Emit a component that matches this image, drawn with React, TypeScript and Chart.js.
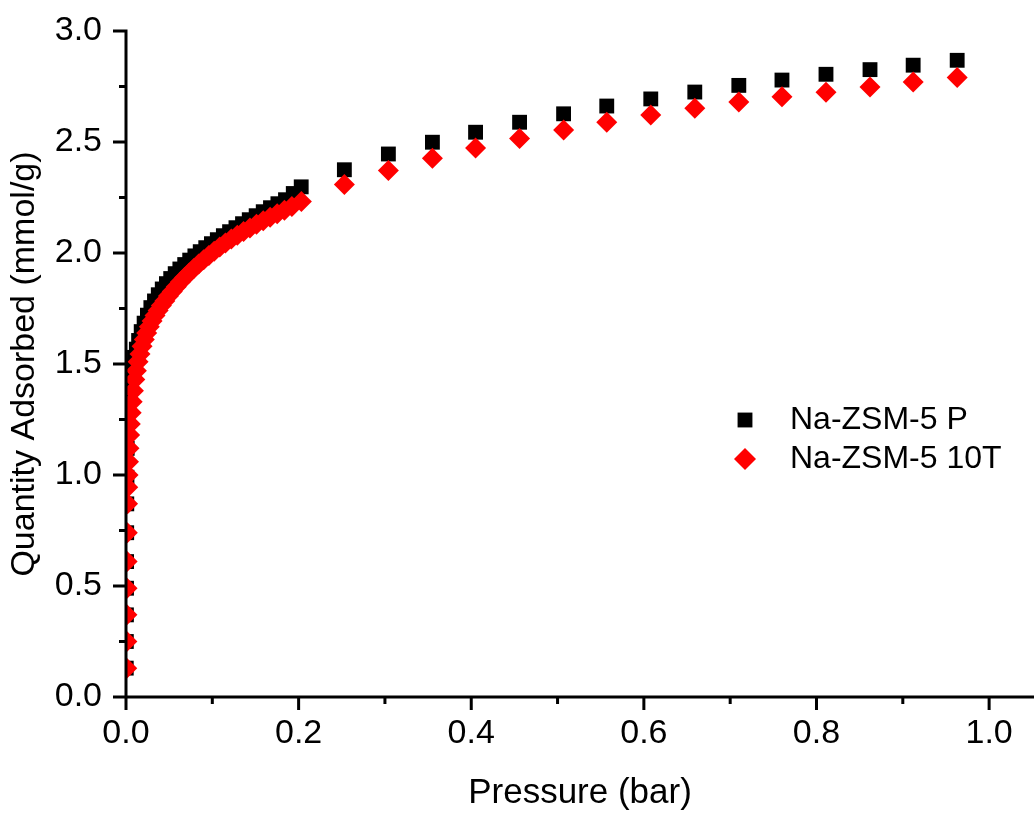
import React, { useEffect, useRef } from 'react';
import { Chart, registerables } from 'chart.js';

Chart.register(...registerables);

// ---- Data ----
const seriesLabels = ['Na-ZSM-5 P', 'Na-ZSM-5 10T'];

const pressureP = [
  0.0003, 0.0004, 0.0005, 0.0006, 0.0007, 0.0008, 0.0009, 0.0011, 0.0014, 0.002,
  0.003, 0.0044, 0.006, 0.0078, 0.0098, 0.012, 0.0146, 0.0176, 0.021, 0.0248,
  0.0288, 0.033, 0.0374, 0.042, 0.0468, 0.0518, 0.057, 0.0624, 0.068, 0.0738,
  0.0798, 0.086, 0.0924, 0.099, 0.1058, 0.1128, 0.12, 0.1274, 0.135, 0.1428,
  0.1508, 0.159, 0.1674, 0.176, 0.1848, 0.1938, 0.203,
  0.253, 0.304, 0.355, 0.405, 0.456, 0.507, 0.557, 0.608, 0.659, 0.71,
  0.76, 0.811, 0.862, 0.912, 0.963,
];
const adsorbedP = [
  0.13, 0.25, 0.37, 0.49, 0.61, 0.74, 0.87, 0.99, 1.12, 1.24,
  1.33, 1.4, 1.45, 1.49, 1.53, 1.567, 1.606, 1.646, 1.684, 1.72,
  1.754, 1.784, 1.812, 1.838, 1.862, 1.885, 1.907, 1.928, 1.948, 1.968,
  1.987, 2.006, 2.024, 2.042, 2.06, 2.078, 2.096, 2.114, 2.132, 2.15,
  2.168, 2.186, 2.204, 2.222, 2.24, 2.268, 2.298,
  2.375, 2.446, 2.499, 2.544, 2.589, 2.627, 2.662, 2.694, 2.725, 2.755,
  2.779, 2.805, 2.826, 2.846, 2.868,
];

const pressureT = [
  0.0009, 0.001, 0.0011, 0.0012, 0.0013, 0.0015, 0.0018, 0.002, 0.0024, 0.0029,
  0.0035, 0.0042, 0.005, 0.006, 0.0072, 0.0086, 0.0102, 0.012, 0.014, 0.0162,
  0.0186, 0.0212, 0.024, 0.027, 0.0302, 0.0336, 0.0372, 0.041, 0.045, 0.0492,
  0.0536, 0.0582, 0.063, 0.068, 0.0732, 0.0786, 0.0842, 0.09, 0.096, 0.1022,
  0.1086, 0.1152, 0.122, 0.129, 0.1362, 0.1436, 0.1512, 0.159, 0.167, 0.1752,
  0.1836, 0.1922, 0.2032,
  0.253, 0.304, 0.355, 0.405, 0.456, 0.507, 0.557, 0.608, 0.659, 0.71,
  0.76, 0.811, 0.862, 0.912, 0.963,
];
const adsorbedT = [
  0.13, 0.25, 0.37, 0.49, 0.61, 0.74, 0.87, 0.945, 1.0, 1.06,
  1.12, 1.18, 1.23, 1.28, 1.33, 1.38, 1.43, 1.47, 1.51, 1.545,
  1.58, 1.61, 1.64, 1.668, 1.694, 1.718, 1.741, 1.763, 1.784, 1.806,
  1.827, 1.848, 1.869, 1.89, 1.91, 1.93, 1.95, 1.97, 1.989, 2.008,
  2.027, 2.045, 2.063, 2.08, 2.097, 2.113, 2.129, 2.145, 2.161, 2.177,
  2.193, 2.209, 2.232,
  2.309, 2.372, 2.427, 2.473, 2.516, 2.554, 2.589, 2.622, 2.652, 2.68,
  2.704, 2.724, 2.748, 2.77, 2.79,
];

const xTickValues = [0, 0.2, 0.4, 0.6, 0.8, 1.0];
const xMinorTicks = [0.1, 0.3, 0.5, 0.7, 0.9];
const yTickValues = [0, 0.5, 1.0, 1.5, 2.0, 2.5, 3.0];
const yMinorTicks = [0.25, 0.75, 1.25, 1.75, 2.25, 2.75];

const FONT = 'Arial, "Liberation Sans", Helvetica, sans-serif';

const axesPlugin = {
  id: 'originAxes',
  afterDatasetsDraw(chart: any) {
    const { ctx, chartArea, scales } = chart;
    const x = scales.x;
    const y = scales.y;
    const W = chart.width;
    ctx.save();
    ctx.strokeStyle = '#000';
    ctx.lineWidth = 3;
    ctx.lineCap = 'butt';
    ctx.beginPath();
    // y axis
    ctx.moveTo(chartArea.left, chartArea.top - 1.5);
    ctx.lineTo(chartArea.left, chartArea.bottom);
    // x axis
    ctx.moveTo(chartArea.left, chartArea.bottom);
    ctx.lineTo(W, chartArea.bottom);
    // x ticks
    xTickValues.forEach((v) => {
      const px = x.getPixelForValue(v);
      ctx.moveTo(px, chartArea.bottom);
      ctx.lineTo(px, chartArea.bottom + 13);
    });
    xMinorTicks.forEach((v) => {
      const px = x.getPixelForValue(v);
      ctx.moveTo(px, chartArea.bottom);
      ctx.lineTo(px, chartArea.bottom + 7);
    });
    // y ticks
    yTickValues.forEach((v) => {
      const py = y.getPixelForValue(v);
      ctx.moveTo(chartArea.left, py);
      ctx.lineTo(chartArea.left - 13, py);
    });
    yMinorTicks.forEach((v) => {
      const py = y.getPixelForValue(v);
      ctx.moveTo(chartArea.left, py);
      ctx.lineTo(chartArea.left - 7, py);
    });
    ctx.stroke();
    ctx.restore();
  },
};

const legendPlugin = {
  id: 'insetLegend',
  afterDraw(chart: any) {
    const { ctx } = chart;
    const ds = chart.data.datasets;
    const rows = [420, 459];
    ctx.save();
    ds.forEach((d: any, i: number) => {
      const cx = 745;
      const cy = rows[i];
      ctx.fillStyle = d.backgroundColor;
      if (d.pointStyle === 'rect') {
        const half = 10.5 * Math.SQRT1_2;
        ctx.fillRect(cx - half, cy - half, half * 2, half * 2);
      } else {
        const r = 11;
        ctx.beginPath();
        ctx.moveTo(cx - r, cy);
        ctx.lineTo(cx, cy - r);
        ctx.lineTo(cx + r, cy);
        ctx.lineTo(cx, cy + r);
        ctx.closePath();
        ctx.fill();
      }
      ctx.fillStyle = '#000';
      ctx.font = `32px ${FONT}`;
      ctx.textAlign = 'left';
      ctx.textBaseline = 'middle';
      ctx.fillText(d.label, 790, cy);
    });
    ctx.restore();
  },
};

export default function App() {
  const canvasRef = useRef<HTMLCanvasElement | null>(null);

  useEffect(() => {
    const canvas = canvasRef.current;
    if (!canvas) return;
    const chart = new Chart(canvas, {
      type: 'scatter',
      data: {
        datasets: [
          {
            label: seriesLabels[0],
            data: pressureP.map((p, i) => ({ x: p, y: adsorbedP[i] })),
            pointStyle: 'rect',
            pointRadius: 10.5,
            backgroundColor: '#000000',
            borderColor: '#000000',
            borderWidth: 0,
            order: 1,
            clip: 0,
          } as any,
          {
            label: seriesLabels[1],
            data: pressureT.map((p, i) => ({ x: p, y: adsorbedT[i] })),
            pointStyle: 'rectRot',
            pointRadius: 10.5,
            backgroundColor: '#ff0000',
            borderColor: '#ff0000',
            borderWidth: 0,
            order: 0,
            clip: 0,
          } as any,
        ],
      },
      options: {
        animation: false,
        responsive: false,
        events: [],
        layout: { autoPadding: false, padding: { top: 31, left: 0, right: 0, bottom: 0 } },
        plugins: {
          legend: { display: false },
          tooltip: { enabled: false },
        },
        scales: {
          x: {
            type: 'linear',
            min: 0,
            max: 1.052,
            afterBuildTicks: (s: any) => {
              s.ticks = xTickValues.map((v) => ({ value: v }));
            },
            afterFit: (s: any) => {
              s.height = 119;
              s.paddingLeft = 0;
              s.paddingRight = 0;
            },
            grid: { display: false, drawTicks: false },
            border: { display: false },
            ticks: {
              padding: 16,
              color: '#000',
              font: { family: FONT, size: 34 },
              maxRotation: 0,
              autoSkip: false,
              callback: (v: any) => Number(v).toFixed(1),
            },
            title: {
              display: true,
              text: 'Pressure (bar)',
              color: '#000',
              font: { family: FONT, size: 35 },
              padding: { top: 0, bottom: 2 },
            },
          },
          y: {
            type: 'linear',
            min: 0,
            max: 3.0,
            afterBuildTicks: (s: any) => {
              s.ticks = yTickValues.map((v) => ({ value: v }));
            },
            afterFit: (s: any) => {
              s.width = 126;
              s.paddingTop = 0;
              s.paddingBottom = 0;
            },
            grid: { display: false, drawTicks: false },
            border: { display: false },
            ticks: {
              padding: 24,
              color: '#000',
              font: { family: FONT, size: 34 },
              autoSkip: false,
              callback: (v: any) => Number(v).toFixed(1),
            },
            title: {
              display: true,
              text: 'Quantity Adsorbed (mmol/g)',
              color: '#000',
              font: { family: FONT, size: 34 },
              padding: { top: 4, bottom: 0 },
            },
          },
        },
      },
      plugins: [axesPlugin, legendPlugin],
    } as any);
    return () => chart.destroy();
  }, []);

  return (
    <div style={{ position: 'absolute', left: 0, top: 0, width: 1034, height: 816, background: '#fff' }}>
      <canvas ref={canvasRef} width={1034} height={816} style={{ display: 'block', width: 1034, height: 816 }} />
    </div>
  );
}
